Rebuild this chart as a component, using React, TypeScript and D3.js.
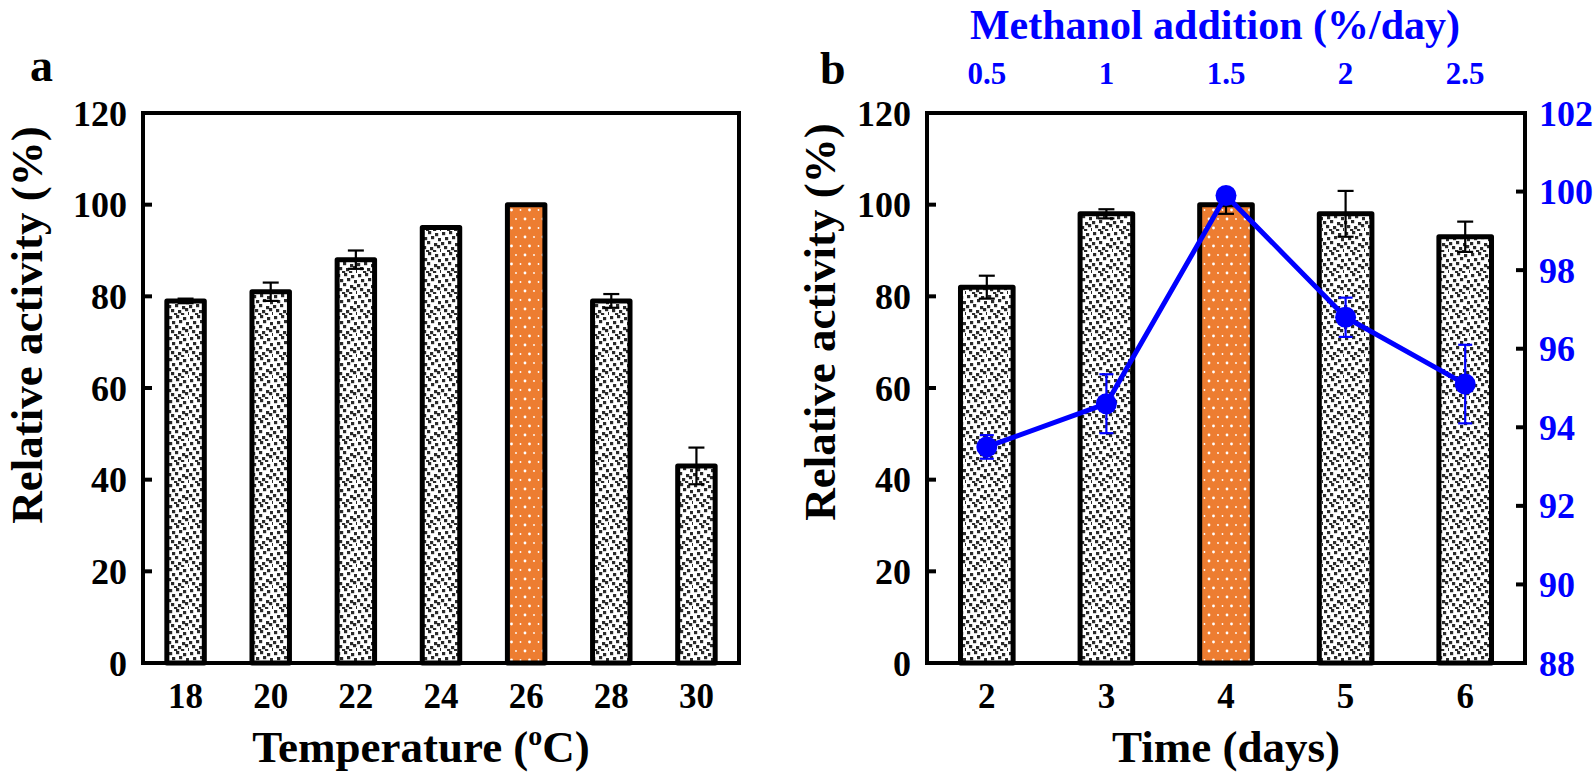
import React from "react";
import * as d3 from "d3";

// ---------- data ----------
const tempCategories = ["18", "20", "22", "24", "26", "28", "30"];
const tempActivity = [79, 81, 88, 95, 100, 79, 43];
const tempError = [0.5, 2, 2, 0, 0, 1.5, 4];
const tempHighlight = "26";

const timeCategories = ["2", "3", "4", "5", "6"];
const timeActivity = [82, 98, 100, 98, 93];
const timeError = [2.5, 1, 2, 5, 3.3];
const timeHighlight = "4";

const methanolLabels = ["0.5", "1", "1.5", "2", "2.5"];
const methanolActivity = [93.5, 94.6, 99.9, 96.8, 95.1];
const methanolError = [0.3, 0.75, 0.15, 0.5, 1.0];

const leftTicks = [0, 20, 40, 60, 80, 100, 120];
const rightTicks = [88, 90, 92, 94, 96, 98, 100, 102];

// ---------- layout ----------
const W = 1595;
const H = 775;
const TOP = 113;
const BOTTOM = 663;
const A_LEFT = 143;
const A_RIGHT = 739;
const B_LEFT = 927;
const B_RIGHT = 1525;

const FONT = "'Liberation Serif', 'Times New Roman', serif";
const ORANGE = "#ED7D31";
const BLUE = "#0000FF";

const greyDots: [number, number][] = [
  [1, 1], [8, 0], [15, 2], [4, 6], [11, 5], [18, 7],
  [0, 11], [7, 10], [14, 12], [3, 15], [10, 16], [17, 14],
  [6, 19], [13, 19], [20, 18],
];

function Patterns() {
  return (
    <defs>
      <pattern id="grey" width={21} height={21} patternUnits="userSpaceOnUse">
        <rect width={21} height={21} fill="#fff" />
        {greyDots.map(([x, y], i) => (
          <rect key={i} x={x} y={y} width={3.2} height={3.2} fill="#2a2a2a" />
        ))}
      </pattern>
      <pattern id="orange" width={18} height={18} patternUnits="userSpaceOnUse">
        <rect width={18} height={18} fill={ORANGE} />
        <circle cx={3} cy={3} r={1.4} fill="#fff" />
        <circle cx={12} cy={3} r={0.9} fill="#fff" />
        <circle cx={7.5} cy={12} r={1.4} fill="#fff" />
        <circle cx={16.5} cy={12} r={0.9} fill="#fff" />
      </pattern>
    </defs>
  );
}

interface BarPanelProps {
  left: number;
  right: number;
  cats: string[];
  values: number[];
  errors: number[];
  highlight: string;
}

function BarPanel({ left, right, cats, values, errors, highlight }: BarPanelProps) {
  const x = d3.scaleBand<string>().domain(cats).range([left, right]).paddingInner(0.56).paddingOuter(0.28);
  const y = d3.scaleLinear().domain([0, 120]).range([BOTTOM, TOP]);
  const bw = x.bandwidth();
  return (
    <g>
      {cats.map((c, i) => (
        <rect
          key={c}
          x={x(c)!}
          y={y(values[i])}
          width={bw}
          height={BOTTOM - y(values[i])}
          fill={c === highlight ? "url(#orange)" : "url(#grey)"}
          stroke="#000"
          strokeWidth={5}
          strokeLinejoin="round"
        />
      ))}
      {cats.map((c, i) => {
        if (!errors[i]) return null;
        const cx = x(c)! + bw / 2;
        const y1 = y(values[i] + errors[i]);
        const y2 = y(values[i] - errors[i]);
        return (
          <g key={"e" + c} stroke="#000" strokeWidth={2.2}>
            <line x1={cx} x2={cx} y1={y1} y2={y2} />
            <line x1={cx - 8} x2={cx + 8} y1={y1} y2={y1} />
            <line x1={cx - 8} x2={cx + 8} y1={y2} y2={y2} />
          </g>
        );
      })}
      <rect x={left} y={TOP} width={right - left} height={BOTTOM - TOP} fill="none" stroke="#000" strokeWidth={4} />
      {leftTicks.map((t) => (
        <g key={t}>
          <line x1={left} x2={left + 9} y1={y(t)} y2={y(t)} stroke="#000" strokeWidth={4} />
          <text
            x={left - 16}
            y={y(t)}
            dy="0.35em"
            textAnchor="end"
            fontSize={36}
            fontWeight="bold"
            fontFamily={FONT}
          >
            {t}
          </text>
        </g>
      ))}
      {cats.map((c) => (
        <text
          key={"xl" + c}
          x={x(c)! + bw / 2}
          y={708}
          textAnchor="middle"
          fontSize={35}
          fontWeight="bold"
          fontFamily={FONT}
        >
          {c}
        </text>
      ))}
    </g>
  );
}

function MethanolLine() {
  const x = d3.scaleBand<string>().domain(timeCategories).range([B_LEFT, B_RIGHT]).paddingInner(0.56).paddingOuter(0.28);
  const yR = d3.scaleLinear().domain([88, 102]).range([BOTTOM, TOP]);
  const bw = x.bandwidth();
  const pts: [number, number][] = timeCategories.map((c, i) => [x(c)! + bw / 2, yR(methanolActivity[i])]);
  const line = d3.line()(pts) || "";
  return (
    <g>
      {rightTicks.map((t) => (
        <g key={t}>
          <line x1={B_RIGHT - 9} x2={B_RIGHT} y1={yR(t)} y2={yR(t)} stroke="#000" strokeWidth={4} />
          <text
            x={B_RIGHT + 14}
            y={yR(t)}
            dy="0.35em"
            textAnchor="start"
            fontSize={36}
            fontWeight="bold"
            fontFamily={FONT}
            fill={BLUE}
          >
            {t}
          </text>
        </g>
      ))}
      {methanolLabels.map((l, i) => (
        <text
          key={"t" + l}
          x={x(timeCategories[i])! + bw / 2}
          y={84}
          textAnchor="middle"
          fontSize={31}
          fontWeight="bold"
          fontFamily={FONT}
          fill={BLUE}
        >
          {l}
        </text>
      ))}
      <path d={line} fill="none" stroke={BLUE} strokeWidth={5} strokeLinejoin="round" />
      {pts.map(([px, py], i) => {
        const y1 = yR(methanolActivity[i] + methanolError[i]);
        const y2 = yR(methanolActivity[i] - methanolError[i]);
        return (
          <g key={"m" + i}>
            <g stroke={BLUE} strokeWidth={2.2}>
              <line x1={px} x2={px} y1={y1} y2={y2} />
              <line x1={px - 7} x2={px + 7} y1={y1} y2={y1} />
              <line x1={px - 7} x2={px + 7} y1={y2} y2={y2} />
            </g>
            <circle cx={px} cy={py} r={10.5} fill={BLUE} />
          </g>
        );
      })}
    </g>
  );
}

export default function App() {
  return (
    <svg
      width={W}
      height={H}
      viewBox={`0 0 ${W} ${H}`}
      style={{ position: "absolute", left: 0, top: 0, background: "#fff" }}
    >
      <Patterns />
      <rect width={W} height={H} fill="#fff" />
      {/* Panel a */}
      <text x={30} y={81} fontSize={46} fontWeight="bold" fontFamily={FONT}>a</text>
      <BarPanel
        left={A_LEFT}
        right={A_RIGHT}
        cats={tempCategories}
        values={tempActivity}
        errors={tempError}
        highlight={tempHighlight}
      />
      <text
        transform={`translate(42,325) rotate(-90)`}
        textAnchor="middle"
        fontSize={45}
        fontWeight="bold"
        fontFamily={FONT}
      >
        Relative activity (%)
      </text>
      <text x={421} y={762} textAnchor="middle" fontSize={45} fontWeight="bold" fontFamily={FONT}>
        Temperature (
        <tspan fontSize={28} dy={-17}>o</tspan>
        <tspan dy={17}>C)</tspan>
      </text>

      {/* Panel b */}
      <text x={820} y={84} fontSize={46} fontWeight="bold" fontFamily={FONT}>b</text>
      <BarPanel
        left={B_LEFT}
        right={B_RIGHT}
        cats={timeCategories}
        values={timeActivity}
        errors={timeError}
        highlight={timeHighlight}
      />
      <MethanolLine />
      <text
        transform={`translate(835,322) rotate(-90)`}
        textAnchor="middle"
        fontSize={45}
        fontWeight="bold"
        fontFamily={FONT}
      >
        Relative activity (%)
      </text>
      <text x={1215} y={39} textAnchor="middle" fontSize={42} fontWeight="bold" fontFamily={FONT} fill={BLUE}>
        Methanol addition (%/day)
      </text>
      <text x={1226} y={762} textAnchor="middle" fontSize={45} fontWeight="bold" fontFamily={FONT}>
        Time (days)
      </text>
    </svg>
  );
}
